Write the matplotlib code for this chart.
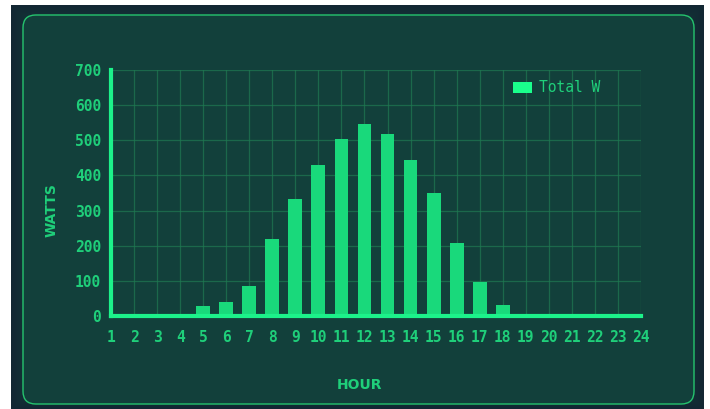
import matplotlib
matplotlib.use("Agg")
import matplotlib.pyplot as plt
from matplotlib.patches import FancyBboxPatch
import numpy as np

hours = list(range(1, 25))
watts = [0, 0, 0, 0, 28, 40, 84, 220, 332, 430, 504, 546, 518, 445, 350, 209, 98, 32,
         0, 0, 0, 0, 0, 0]
series_name = "Total W"
y_ticks = [0, 100, 200, 300, 400, 500, 600, 700]

W, H = 710, 409
fig = plt.figure(figsize=(W / 100, H / 100), dpi=100)
fig.patch.set_facecolor("white")

# dark background area with vignette (white margins around it)
bg = fig.add_axes([11 / W, 0, (704 - 11) / W, (H - 5) / H], zorder=-10)
xx = np.linspace(-1, 1, 300)
yy = np.linspace(-1, 1, 160)
X, Y = np.meshgrid(xx, yy)
v = np.clip(np.maximum(np.abs(X) ** 14, np.abs(Y) ** 10), 0, 1)
c0 = np.array([0x11, 0x3c, 0x39]) / 255
c1 = np.array([0x13, 0x27, 0x33]) / 255
img = c0[None, None, :] * (1 - v[..., None]) + c1[None, None, :] * v[..., None]
bg.imshow(img, aspect="auto", extent=[0, 1, 0, 1], interpolation="bilinear")
bg.set_axis_off()

# panel
panel = FancyBboxPatch((23 / W, 1 - 404 / H), (694 - 23) / W, (404 - 15) / H,
                       boxstyle="round,pad=0,rounding_size=0.018",
                       transform=fig.transFigure, facecolor="#12403b",
                       edgecolor="#25c46e", linewidth=1.0, zorder=-5,
                       mutation_aspect=W / H)
fig.patches.append(panel)

ax = fig.add_axes([111 / W, 1 - 316 / H, (641 - 111) / W, (316 - 70) / H])
ax.set_facecolor("none")

ax.bar(hours, watts, width=0.6, color="#19d97b", zorder=3, label=series_name)
ax.set_xlim(1, 24)
ax.set_ylim(0, 700)
ax.set_xticks(hours)
ax.set_yticks(y_ticks)
ax.grid(True, color="#1f7a52", linewidth=0.9, alpha=0.7, zorder=0)

for s in ["top", "right"]:
    ax.spines[s].set_visible(False)
for s in ["left", "bottom"]:
    ax.spines[s].set_color("#1cf28a")
    ax.spines[s].set_linewidth(3)
    ax.spines[s].set_zorder(4)

tick_color = "#1fcf7a"
ax.tick_params(axis="both", length=0, colors=tick_color)
ax.tick_params(axis="x", pad=10)
ax.tick_params(axis="y", pad=7)
for lab in ax.get_xticklabels() + ax.get_yticklabels():
    lab.set_fontfamily("DejaVu Sans Mono")
    lab.set_fontweight("bold")
    lab.set_fontsize(10.5)

fig.text(52 / W, 1 - 210 / H, "WATTS", rotation=90, ha="center", va="center",
         color=tick_color, fontsize=10, fontweight="bold", family="DejaVu Sans")
fig.text(360 / W, 1 - 385 / H, "HOUR", ha="center", va="center",
         color=tick_color, fontsize=10, fontweight="bold", family="DejaVu Sans")

leg = ax.legend(loc="center left", bbox_to_anchor=(500 / W, 1 - 88 / H),
                bbox_transform=fig.transFigure, frameon=False,
                handlelength=1.3, handleheight=0.7, handletextpad=0.5,
                prop={"family": "DejaVu Sans Mono", "size": 10.5})
for t in leg.get_texts():
    t.set_color(tick_color)
for p in leg.get_patches():
    p.set_facecolor("#1aff8c")

fig.savefig("out.png", dpi=100, facecolor=fig.get_facecolor())
